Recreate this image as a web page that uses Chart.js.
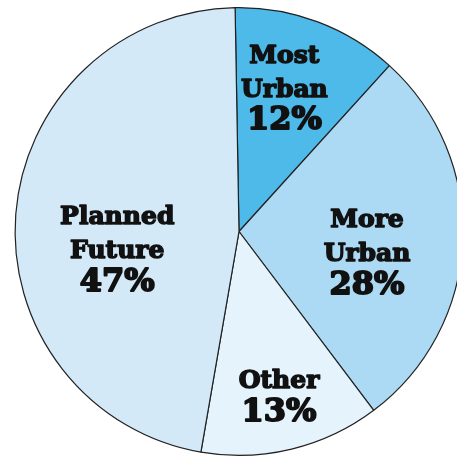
<!DOCTYPE html>
<html>
<head>
<meta charset="utf-8">
<script src="https://cdn.jsdelivr.net/npm/chart.js@4"></script>
<style>
  html, body { margin: 0; padding: 0; background: #fff; overflow: hidden; }
  #wrap { position: absolute; left: 0; top: 0; width: 478px; height: 463px; }
</style>
</head>
<body>
<div id="wrap"><canvas id="pieChart"></canvas></div>
<script>
const categories = ["Most Urban", "More Urban", "Other", "Planned Future"];
const labelLines = [["Most", "Urban"], ["More", "Urban"], ["Other"], ["Planned", "Future"]];
const shares = [12, 28, 13, 47];

const sliceColors = ["#4DBAE9", "#ACD9F3", "#E4F3FC", "#D3E9F8"];
// where each label sits: fraction of radius along the slice's mid angle, plus angle nudge (deg)
const labelRadius = [0.67, 0.58, 0.76, 0.55];
const labelNudge = [-3, 7, 0, -13];

function boldText(c, t, x, y) {
  c.strokeText(t, x, y);
  c.fillText(t, x, y);
}

const sliceLabels = {
  id: "sliceLabels",
  afterDatasetsDraw(chart) {
    const c = chart.ctx;
    const meta = chart.getDatasetMeta(0);
    meta.data.forEach((arc, i) => {
      const mid = (arc.startAngle + arc.endAngle) / 2 + labelNudge[i] * Math.PI / 180;
      const r = arc.outerRadius * labelRadius[i];
      const cx = arc.x + Math.cos(mid) * r;
      const cy = arc.y + Math.sin(mid) * r;
      const lines = labelLines[i];
      const pct = shares[i] + "%";
      const step = 34;
      const pctStep = 31;
      const height = (lines.length - 1) * step + pctStep;
      let y = cy - height / 2;
      c.save();
      c.fillStyle = "#111";
      c.strokeStyle = "#111";
      c.lineJoin = "round";
      c.textAlign = "center";
      c.textBaseline = "middle";
      c.font = "bold 25px 'DejaVu Serif'";
      c.lineWidth = 1.5;
      lines.forEach((t, k) => {
        boldText(c, t, cx, y);
        y += k < lines.length - 1 ? step : pctStep;
      });
      c.font = "bold 32px 'DejaVu Serif'";
      c.lineWidth = 1.9;
      boldText(c, pct, cx, y);
      c.restore();
    });
  },
};

new Chart(document.getElementById("pieChart"), {
  type: "pie",
  data: {
    labels: categories,
    datasets: [
      {
        data: shares,
        backgroundColor: sliceColors,
        borderColor: "#222",
        borderWidth: 1.2,
      },
    ],
  },
  options: {
    responsive: true,
    maintainAspectRatio: false,
    animation: false,
    rotation: -1,
    layout: { padding: 7 },
    plugins: {
      legend: { display: false },
      tooltip: { enabled: false },
    },
  },
  plugins: [sliceLabels],
});
</script>
</body>
</html>
